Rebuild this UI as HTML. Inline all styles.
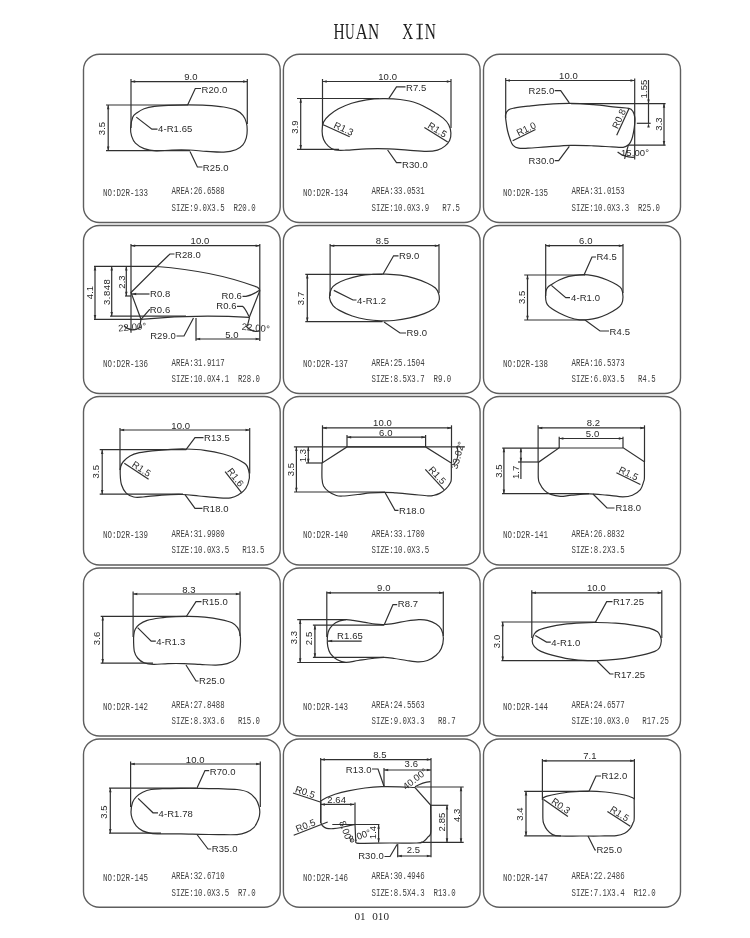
<!DOCTYPE html>
<html><head><meta charset="utf-8"><title>HUAN XIN</title>
<style>
html,body{margin:0;padding:0;background:#fff;width:750px;height:938px;overflow:hidden}
svg{filter:grayscale(1)}
svg{display:block}
line,polyline,path,.ln{fill:none;stroke:#303030;stroke-width:1.2}
path.ah{fill:#303030;stroke:none}
.bx{fill:none;stroke:#5e5e5e;stroke-width:1.4}
text{font-family:"Liberation Sans",sans-serif}
.t{font-size:9.5px;fill:#2a2a2a;letter-spacing:0.1px}
.i{font-family:"Liberation Mono",monospace;font-size:10.2px;fill:#404040}
.ti{font-family:"Liberation Serif",serif;font-size:23.4px;fill:#1e1e1e}
.ft{font-family:"Liberation Serif",serif;font-size:11.2px;fill:#2a2a2a}
</style></head><body>
<svg width="750" height="938" viewBox="0 0 750 938">
<text class="ti" transform="translate(333.55,39.2) scale(0.66,1)">H</text>
<text class="ti" transform="translate(344.92,39.2) scale(0.57,1)">U</text>
<text class="ti" transform="translate(355.43,39.2) scale(0.73,1)">A</text>
<text class="ti" transform="translate(367.95,39.2) scale(0.66,1)">N</text>
<text class="ti" transform="translate(402.37,39.2) scale(0.65,1)">X</text>
<text class="ti" transform="translate(424.85,39.2) scale(0.66,1)">N</text><path d="M419.65,24.2V39" style="stroke:#1e1e1e;stroke-width:1.7;fill:none"/><path d="M416.4,24.3H422.9M416.4,38.8H422.9" style="stroke:#1e1e1e;stroke-width:0.95;fill:none"/>
<rect class="bx" x="83.5" y="54.3" width="196.7" height="168.2" rx="16" ry="15.5"/>
<rect class="bx" x="283.4" y="54.3" width="196.7" height="168.2" rx="16" ry="15.5"/>
<rect class="bx" x="483.5" y="54.3" width="197" height="168.2" rx="16" ry="15.5"/>
<rect class="bx" x="83.5" y="225.5" width="196.7" height="168" rx="16" ry="15.5"/>
<rect class="bx" x="283.4" y="225.5" width="196.7" height="168" rx="16" ry="15.5"/>
<rect class="bx" x="483.5" y="225.5" width="197" height="168" rx="16" ry="15.5"/>
<rect class="bx" x="83.5" y="396.5" width="196.7" height="168.5" rx="16" ry="15.5"/>
<rect class="bx" x="283.4" y="396.5" width="196.7" height="168.5" rx="16" ry="15.5"/>
<rect class="bx" x="483.5" y="396.5" width="197" height="168.5" rx="16" ry="15.5"/>
<rect class="bx" x="83.5" y="568" width="196.7" height="168" rx="16" ry="15.5"/>
<rect class="bx" x="283.4" y="568" width="196.7" height="168" rx="16" ry="15.5"/>
<rect class="bx" x="483.5" y="568" width="197" height="168" rx="16" ry="15.5"/>
<rect class="bx" x="83.5" y="739" width="196.7" height="168.3" rx="16" ry="15.5"/>
<rect class="bx" x="283.4" y="739" width="196.7" height="168.3" rx="16" ry="15.5"/>
<rect class="bx" x="483.5" y="739" width="197" height="168.3" rx="16" ry="15.5"/>
<line x1="131" y1="79" x2="131" y2="128"/>
<line x1="247.3" y1="79" x2="247.3" y2="124"/>
<line x1="131" y1="81.6" x2="247.3" y2="81.6"/>
<path class="ah" d="M131,81.6L135.2,80.35L135.2,82.85Z"/>
<path class="ah" d="M247.3,81.6L243.1,82.85L243.1,80.35Z"/>
<text class="t" x="191" y="80.1" text-anchor="middle">9.0</text>
<line x1="106" y1="105" x2="188" y2="105"/>
<line x1="106" y1="150.6" x2="190" y2="150.6"/>
<line x1="108.2" y1="105" x2="108.2" y2="150.6"/>
<path class="ah" d="M108.2,105L109.45,109.2L106.95,109.2Z"/>
<path class="ah" d="M108.2,150.6L106.95,146.4L109.45,146.4Z"/>
<text class="t" x="0" y="0" text-anchor="middle" transform="translate(105.2,128.5) rotate(-90)">3.5</text>
<path d="M130.6,128.4C130.8,125.23 131.72,119.72 132.8,117.1C133.88,114.48 135.22,114.1 137.1,112.7C138.98,111.3 141.2,109.77 144.1,108.7C147,107.63 150.47,106.87 154.5,106.3C158.53,105.73 162.82,105.53 168.3,105.3C173.78,105.07 181.03,104.9 187.4,104.9C193.77,104.9 200.43,104.95 206.5,105.3C212.57,105.65 218.9,106.2 223.8,107C228.7,107.8 232.72,108.72 235.9,110.1C239.08,111.48 241.17,113.27 242.9,115.3C244.63,117.33 245.58,119.85 246.3,122.3C247.02,124.75 247.2,127.4 247.2,130C247.2,132.6 247.02,135.43 246.3,137.9C245.58,140.37 244.63,142.83 242.9,144.8C241.17,146.77 239.08,148.48 235.9,149.7C232.72,150.92 228.7,151.82 223.8,152.1C218.9,152.38 212.28,151.75 206.5,151.4C200.72,151.05 194.88,150.23 189.1,150C183.32,149.77 177.28,149.85 171.8,150C166.32,150.15 160.82,151.13 156.2,150.9C151.58,150.67 147.57,149.9 144.1,148.6C140.63,147.3 137.48,145.18 135.4,143.1C133.32,141.02 132.4,138.55 131.6,136.1C130.8,133.65 130.4,131.57 130.6,128.4Z"/>
<polyline points="187.6,105 195.3,88.5 201,88.5"/>
<text class="t" x="201.5" y="92.6">R20.0</text>
<polyline points="136.3,117.1 151.9,129.2 157.5,129.2"/>
<text class="t" x="158" y="132.4">4-R1.65</text>
<polyline points="190,151.4 197.4,167 202.5,167"/>
<text class="t" x="202.8" y="170.8">R25.0</text>
<text class="i" x="103" y="196" textLength="44.9" lengthAdjust="spacingAndGlyphs">NO:D2R-133</text>
<text class="i" x="171.6" y="194.2" textLength="53.04" lengthAdjust="spacingAndGlyphs">AREA:26.6588</text>
<text class="i" x="171.6" y="210.7" textLength="83.98" lengthAdjust="spacingAndGlyphs">SIZE:9.0X3.5&#160;&#160;R20.0</text>
<line x1="322.5" y1="79" x2="322.5" y2="126"/>
<line x1="451" y1="79" x2="451" y2="128"/>
<line x1="322.5" y1="81.5" x2="451" y2="81.5"/>
<path class="ah" d="M322.5,81.5L326.7,80.25L326.7,82.75Z"/>
<path class="ah" d="M451,81.5L446.8,82.75L446.8,80.25Z"/>
<text class="t" x="387.6" y="80" text-anchor="middle">10.0</text>
<line x1="297" y1="98.5" x2="379" y2="98.5"/>
<line x1="297" y1="149.3" x2="339" y2="149.3"/>
<line x1="300.7" y1="98.5" x2="300.7" y2="149.3"/>
<path class="ah" d="M300.7,98.5L301.95,102.7L299.45,102.7Z"/>
<path class="ah" d="M300.7,149.3L299.45,145.1L301.95,145.1Z"/>
<text class="t" x="0" y="0" text-anchor="middle" transform="translate(297.7,127) rotate(-90)">3.9</text>
<path d="M322.1,131C322.1,128.05 322.42,124.52 323.6,121.9C324.78,119.28 326.72,117.48 329.2,115.3C331.68,113.12 334.77,110.82 338.5,108.8C342.23,106.78 346.93,104.7 351.6,103.2C356.27,101.7 361.22,100.55 366.5,99.8C371.78,99.05 377.7,98.75 383.3,98.7C388.9,98.65 394.5,98.75 400.1,99.5C405.7,100.25 411.6,101.33 416.9,103.2C422.2,105.07 427.53,108.22 431.9,110.7C436.27,113.18 440.3,115.77 443.1,118.1C445.9,120.43 447.4,122.22 448.7,124.7C450,127.18 450.75,130.37 450.9,133C451.05,135.63 450.6,138.32 449.6,140.5C448.6,142.68 446.92,144.48 444.9,146.1C442.88,147.72 440.6,149.32 437.5,150.2C434.4,151.08 431.28,151.4 426.3,151.4C421.32,151.4 413.83,150.62 407.6,150.2C401.37,149.78 395.75,149.12 388.9,148.9C382.05,148.68 373.65,148.68 366.5,148.9C359.35,149.12 351.28,150.03 346,150.2C340.72,150.37 337.75,150.58 334.8,149.9C331.85,149.22 330.17,147.82 328.3,146.1C326.43,144.38 324.63,142.12 323.6,139.6C322.57,137.08 322.1,133.95 322.1,131Z"/>
<polyline points="388.9,98.3 396.5,86.8 405.5,86.8"/>
<text class="t" x="406" y="90.6">R7.5</text>
<line x1="323.2" y1="124.7" x2="349.7" y2="136.8"/>
<text class="t" x="0" y="0" text-anchor="middle" transform="translate(342.41,131.71) rotate(24.54)">R1.3</text>
<line x1="424.4" y1="127.5" x2="447.7" y2="142"/>
<text class="t" x="0" y="0" text-anchor="middle" transform="translate(435.73,132.67) rotate(31.89)">R1.5</text>
<polyline points="387.6,150 396.5,162.6 401.5,162.6"/>
<text class="t" x="402" y="167.8">R30.0</text>
<text class="i" x="303" y="196" textLength="44.9" lengthAdjust="spacingAndGlyphs">NO:D2R-134</text>
<text class="i" x="371.6" y="194.2" textLength="53.04" lengthAdjust="spacingAndGlyphs">AREA:33.0531</text>
<text class="i" x="371.6" y="210.7" textLength="88.4" lengthAdjust="spacingAndGlyphs">SIZE:10.0X3.9&#160;&#160;&#160;R7.5</text>
<line x1="505.7" y1="78" x2="505.7" y2="118"/>
<line x1="634.7" y1="78.5" x2="634.7" y2="159.6"/>
<line x1="505.7" y1="80.5" x2="634.7" y2="80.5"/>
<path class="ah" d="M505.7,80.5L509.9,79.25L509.9,81.75Z"/>
<path class="ah" d="M634.7,80.5L630.5,81.75L630.5,79.25Z"/>
<text class="t" x="568.5" y="79" text-anchor="middle">10.0</text>
<path d="M506,121.1C505.68,118.45 505.2,116.47 505.6,114.6C506,112.73 507,110.98 508.4,109.9C509.8,108.82 510.73,108.72 514,108.1C517.27,107.48 522.55,106.83 528,106.2C533.45,105.57 539.55,104.77 546.7,104.3C553.85,103.83 563.13,103.33 570.9,103.4C578.67,103.47 585.83,104.08 593.3,104.7C600.77,105.32 609.78,106.48 615.7,107.1C621.62,107.72 625.93,107.68 628.8,108.4C631.67,109.12 631.9,109.9 632.9,111.4C633.9,112.9 634.48,115.47 634.8,117.4C635.12,119.33 635.02,120.52 634.8,123C634.58,125.48 634.03,129.5 633.5,132.3C632.97,135.1 632.38,137.77 631.6,139.8C630.82,141.83 630.2,143.25 628.8,144.5C627.4,145.75 626,146.9 623.2,147.3C620.4,147.7 616.98,147.15 612,146.9C607.02,146.65 600.15,146.05 593.3,145.8C586.45,145.55 578.67,145.22 570.9,145.4C563.13,145.58 553.85,146.43 546.7,146.9C539.55,147.37 532.67,147.98 528,148.2C523.33,148.42 521.18,148.67 518.7,148.2C516.22,147.73 514.5,146.8 513.1,145.4C511.7,144 511.23,142.28 510.3,139.8C509.37,137.32 508.22,133.62 507.5,130.5C506.78,127.38 506.32,123.75 506,121.1Z"/>
<line x1="571" y1="103.6" x2="665.6" y2="103.6"/>
<line x1="628" y1="145.2" x2="665.6" y2="145.2"/>
<line x1="664" y1="103.6" x2="664" y2="145.2"/>
<path class="ah" d="M664,103.6L665.25,107.8L662.75,107.8Z"/>
<path class="ah" d="M664,145.2L662.75,141L665.25,141Z"/>
<text class="t" x="0" y="0" text-anchor="middle" transform="translate(662,124) rotate(-90)">3.3</text>
<line x1="648.5" y1="80" x2="648.5" y2="123.3"/>
<line x1="636.8" y1="123.3" x2="650.7" y2="123.3"/>
<path class="ah" d="M648.5,103.6L647.25,99.4L649.75,99.4Z"/>
<path class="ah" d="M648.5,123.3L649.75,127.5L647.25,127.5Z"/>
<text class="t" x="0" y="0" text-anchor="middle" transform="translate(647,89) rotate(-90)">1.55</text>
<text class="t" x="554.4" y="94.4" text-anchor="end">R25.0</text>
<polyline points="554.7,90.7 560.7,90.7 569.3,102.9"/>
<text class="t" x="554.4" y="164" text-anchor="end">R30.0</text>
<polyline points="554.7,160.7 558.7,160.7 569.3,146.3"/>
<line x1="512.7" y1="140.7" x2="535.5" y2="129.5"/>
<text class="t" x="0" y="0" text-anchor="middle" transform="translate(527.59,131.83) rotate(-26.16)">R1.0</text>
<line x1="616.7" y1="135.2" x2="628.8" y2="109"/>
<text class="t" x="0" y="0" text-anchor="middle" transform="translate(621.99,120.16) rotate(-65.21)">R0.8</text>
<line x1="628.3" y1="145.2" x2="624.6" y2="158.8"/>
<path d="M617.6,152 Q625,158 634.7,157.2" class="ln"/>
<text class="t" x="635" y="155.6" text-anchor="middle" font-size="8">15.00°</text>
<text class="i" x="503" y="196" textLength="44.9" lengthAdjust="spacingAndGlyphs">NO:D2R-135</text>
<text class="i" x="571.6" y="194.2" textLength="53.04" lengthAdjust="spacingAndGlyphs">AREA:31.0153</text>
<text class="i" x="571.6" y="210.7" textLength="88.4" lengthAdjust="spacingAndGlyphs">SIZE:10.0X3.3&#160;&#160;R25.0</text>
<line x1="131" y1="244" x2="131" y2="332.7"/>
<line x1="259.8" y1="244" x2="259.8" y2="341"/>
<line x1="131" y1="245.7" x2="259.8" y2="245.7"/>
<path class="ah" d="M131,245.7L135.2,244.45L135.2,246.95Z"/>
<path class="ah" d="M259.8,245.7L255.6,246.95L255.6,244.45Z"/>
<text class="t" x="200" y="244.2" text-anchor="middle">10.0</text>
<line x1="94" y1="266.3" x2="157" y2="266.3"/>
<path d="M131,292.5 L157,266.5 Q215,271 257.5,287.3 Q260.5,289.5 259.5,291.5 L249.3,317.3 Q195,314 141,319.3 Z"/>
<line x1="94" y1="319.3" x2="141" y2="319.3"/>
<line x1="110" y1="316.2" x2="186" y2="316.2"/>
<line x1="95" y1="266.3" x2="95" y2="319.3"/>
<path class="ah" d="M95,266.3L96.25,270.5L93.75,270.5Z"/>
<path class="ah" d="M95,319.3L93.75,315.1L96.25,315.1Z"/>
<text class="t" x="0" y="0" text-anchor="middle" transform="translate(93.4,292.5) rotate(-90)">4.1</text>
<line x1="111.7" y1="266.3" x2="111.7" y2="316.2"/>
<path class="ah" d="M111.7,266.3L112.95,270.5L110.45,270.5Z"/>
<path class="ah" d="M111.7,316.2L110.45,312L112.95,312Z"/>
<text class="t" x="0" y="0" text-anchor="middle" transform="translate(109.6,292) rotate(-90)" textLength="26" lengthAdjust="spacing">3.848</text>
<line x1="126.3" y1="266.3" x2="126.3" y2="296"/>
<line x1="125" y1="296" x2="131" y2="296"/>
<path class="ah" d="M126.3,266.3L127.55,270.5L125.05,270.5Z"/>
<path class="ah" d="M126.3,296L125.05,291.8L127.55,291.8Z"/>
<text class="t" x="0" y="0" text-anchor="middle" transform="translate(124.6,282) rotate(-90)">2.3</text>
<polyline points="157,266.5 169.9,254 174.5,254"/>
<text class="t" x="175" y="258">R28.0</text>
<line x1="132" y1="294" x2="149.5" y2="294"/>
<path class="ah" d="M132,294L136.2,292.75L136.2,295.25Z"/>
<text class="t" x="150" y="296.8">R0.8</text>
<polyline points="141,319.3 149.5,309.5 150,309.5"/>
<text class="t" x="149.8" y="312.8">R0.6</text>
<text class="t" x="0" y="0" text-anchor="middle" font-size="8" transform="translate(132.5,330.3) rotate(-5)">22.00°</text>
<path d="M124,326 Q132,333 141,327" class="ln"/>
<text class="t" x="176" y="338.8" text-anchor="end">R29.0</text>
<polyline points="176.5,336 184,336 193.5,318"/>
<line x1="196" y1="318" x2="196" y2="340.7"/>
<line x1="196" y1="339" x2="259.8" y2="339"/>
<path class="ah" d="M196,339L200.2,337.75L200.2,340.25Z"/>
<path class="ah" d="M259.8,339L255.6,340.25L255.6,337.75Z"/>
<text class="t" x="232" y="337.5" text-anchor="middle">5.0</text>
<text class="t" x="242" y="299.4" text-anchor="end">R0.6</text>
<path d="M242.5,296.3 L246,296.3 Q253,295 259,290.5" class="ln"/>
<text class="t" x="236.7" y="309.4" text-anchor="end">R0.6</text>
<path d="M237,306.3 L242.5,306.3 Q245,308 249,316.5" class="ln"/>
<text class="t" x="0" y="0" text-anchor="middle" font-size="8" transform="translate(255.5,331) rotate(5)">22.00°</text>
<path d="M246,326 Q252,333 260,331" class="ln"/>
<line x1="249.5" y1="317.5" x2="247.4" y2="326"/>
<line x1="141" y1="319.3" x2="139.5" y2="328"/>
<text class="i" x="103" y="367.3" textLength="44.9" lengthAdjust="spacingAndGlyphs">NO:D2R-136</text>
<text class="i" x="171.6" y="365.5" textLength="53.04" lengthAdjust="spacingAndGlyphs">AREA:31.9117</text>
<text class="i" x="171.6" y="382" textLength="88.4" lengthAdjust="spacingAndGlyphs">SIZE:10.0X4.1&#160;&#160;R28.0</text>
<line x1="330.1" y1="244" x2="330.1" y2="296"/>
<line x1="439" y1="244" x2="439" y2="293"/>
<line x1="330.1" y1="245.7" x2="439" y2="245.7"/>
<path class="ah" d="M330.1,245.7L334.3,244.45L334.3,246.95Z"/>
<path class="ah" d="M439,245.7L434.8,246.95L434.8,244.45Z"/>
<text class="t" x="382.5" y="244.2" text-anchor="middle">8.5</text>
<line x1="305.3" y1="274.3" x2="382.5" y2="274.3"/>
<line x1="305.3" y1="321.7" x2="382.5" y2="321.7"/>
<line x1="307.3" y1="274.3" x2="307.3" y2="321.7"/>
<path class="ah" d="M307.3,274.3L308.55,278.5L306.05,278.5Z"/>
<path class="ah" d="M307.3,321.7L306.05,317.5L308.55,317.5Z"/>
<text class="t" x="0" y="0" text-anchor="middle" transform="translate(304.3,298.4) rotate(-90)">3.7</text>
<path d="M329.5,297.6C329.23,294.8 330.28,291.07 331.4,288.8C332.52,286.53 333.8,285.55 336.2,284C338.6,282.45 341.8,280.88 345.8,279.5C349.8,278.12 355.67,276.55 360.2,275.7C364.73,274.85 368.73,274.67 373,274.4C377.27,274.13 381.27,273.97 385.8,274.1C390.33,274.23 395.4,274.48 400.2,275.2C405,275.92 410.07,277.07 414.6,278.4C419.13,279.73 423.93,281.6 427.4,283.2C430.87,284.8 433.53,286.27 435.4,288C437.27,289.73 437.93,291.77 438.6,293.6C439.27,295.43 439.53,297.27 439.4,299C439.27,300.73 438.73,302.37 437.8,304C436.87,305.63 436.07,307.2 433.8,308.8C431.53,310.4 428.2,312.08 424.2,313.6C420.2,315.12 414.87,316.75 409.8,317.9C404.73,319.05 398.6,320.02 393.8,320.5C389,320.98 385.53,320.97 381,320.8C376.47,320.63 371.4,320.3 366.6,319.5C361.8,318.7 356.73,317.52 352.2,316C347.67,314.48 342.6,312.13 339.4,310.4C336.2,308.67 334.65,307.73 333,305.6C331.35,303.47 329.77,300.4 329.5,297.6Z"/>
<polyline points="383,274.2 393.6,255.8 398.5,255.8"/>
<text class="t" x="399" y="259.2">R9.0</text>
<polyline points="333.8,290.4 353,300 356.5,300"/>
<text class="t" x="357" y="303.6">4-R1.2</text>
<polyline points="384,322 400,333 406,333"/>
<text class="t" x="406.6" y="336.2">R9.0</text>
<text class="i" x="303" y="367.3" textLength="44.9" lengthAdjust="spacingAndGlyphs">NO:D2R-137</text>
<text class="i" x="371.6" y="365.5" textLength="53.04" lengthAdjust="spacingAndGlyphs">AREA:25.1504</text>
<text class="i" x="371.6" y="382" textLength="79.56" lengthAdjust="spacingAndGlyphs">SIZE:8.5X3.7&#160;&#160;R9.0</text>
<line x1="545.7" y1="244" x2="545.7" y2="296"/>
<line x1="623" y1="244" x2="623" y2="293"/>
<line x1="545.7" y1="245.7" x2="623" y2="245.7"/>
<path class="ah" d="M545.7,245.7L549.9,244.45L549.9,246.95Z"/>
<path class="ah" d="M623,245.7L618.8,246.95L618.8,244.45Z"/>
<text class="t" x="585.8" y="244.2" text-anchor="middle">6.0</text>
<line x1="524.2" y1="275" x2="585" y2="275"/>
<line x1="524.2" y1="320" x2="585" y2="320"/>
<line x1="527.5" y1="275" x2="527.5" y2="320"/>
<path class="ah" d="M527.5,275L528.75,279.2L526.25,279.2Z"/>
<path class="ah" d="M527.5,320L526.25,315.8L528.75,315.8Z"/>
<text class="t" x="0" y="0" text-anchor="middle" transform="translate(524.5,297.3) rotate(-90)">3.5</text>
<path d="M545.8,300C545.53,297.9 545.52,294.07 545.8,292C546.08,289.93 546.47,288.9 547.5,287.6C548.53,286.3 550.05,285.47 552,284.2C553.95,282.93 556.4,281.3 559.2,280C562,278.7 565.4,277.27 568.8,276.4C572.2,275.53 576.4,275.07 579.6,274.8C582.8,274.53 585,274.5 588,274.8C591,275.1 594.4,275.73 597.6,276.6C600.8,277.47 604,278.63 607.2,280C610.4,281.37 614.4,283.3 616.8,284.8C619.2,286.3 620.57,286.97 621.6,289C622.63,291.03 623,294.5 623,297C623,299.5 622.63,302.03 621.6,304C620.57,305.97 619.2,307.1 616.8,308.8C614.4,310.5 610.4,312.7 607.2,314.2C604,315.7 600.8,316.9 597.6,317.8C594.4,318.7 591,319.27 588,319.6C585,319.93 582.8,320.2 579.6,319.8C576.4,319.4 572.2,318.33 568.8,317.2C565.4,316.07 562,314.4 559.2,313C556.4,311.6 553.97,310.2 552,308.8C550.03,307.4 548.43,306.07 547.4,304.6C546.37,303.13 546.07,302.1 545.8,300Z"/>
<polyline points="584,275 592,257 596,257"/>
<text class="t" x="596.4" y="259.8">R4.5</text>
<polyline points="551.4,285.4 565.8,297.6 570,297.6"/>
<text class="t" x="571" y="301.2">4-R1.0</text>
<polyline points="585,320 600,331 609,331"/>
<text class="t" x="609.6" y="334.7">R4.5</text>
<text class="i" x="503" y="367.3" textLength="44.9" lengthAdjust="spacingAndGlyphs">NO:D2R-138</text>
<text class="i" x="571.6" y="365.5" textLength="53.04" lengthAdjust="spacingAndGlyphs">AREA:16.5373</text>
<text class="i" x="571.6" y="382" textLength="83.98" lengthAdjust="spacingAndGlyphs">SIZE:6.0X3.5&#160;&#160;&#160;R4.5</text>
<line x1="120" y1="428" x2="120" y2="470"/>
<line x1="249.7" y1="428" x2="249.7" y2="473.5"/>
<line x1="120" y1="430" x2="249.7" y2="430"/>
<path class="ah" d="M120,430L124.2,428.75L124.2,431.25Z"/>
<path class="ah" d="M249.7,430L245.5,431.25L245.5,428.75Z"/>
<text class="t" x="180.8" y="428.5" text-anchor="middle">10.0</text>
<line x1="99.7" y1="449.7" x2="186.3" y2="449.7"/>
<line x1="99.7" y1="494.2" x2="183" y2="494.2"/>
<line x1="102.2" y1="449.7" x2="102.2" y2="494.2"/>
<path class="ah" d="M102.2,449.7L103.45,453.9L100.95,453.9Z"/>
<path class="ah" d="M102.2,494.2L100.95,490L103.45,490Z"/>
<text class="t" x="0" y="0" text-anchor="middle" transform="translate(99.2,471.7) rotate(-90)">3.5</text>
<path d="M120.2,474C120.07,470.95 120.17,468.58 120.7,466.5C121.23,464.42 121.85,463.27 123.4,461.5C124.95,459.73 127.35,457.37 130,455.9C132.65,454.43 135.58,453.55 139.3,452.7C143.02,451.85 147.02,451.37 152.3,450.8C157.58,450.23 165.38,449.6 171,449.3C176.62,449 180.4,448.83 186,449C191.6,449.17 198.38,449.47 204.6,450.3C210.82,451.13 218.02,452.6 223.3,454C228.58,455.4 232.57,456.98 236.3,458.7C240.03,460.42 243.67,462.43 245.7,464.3C247.73,466.17 247.88,467.62 248.5,469.9C249.12,472.18 249.87,474.9 249.4,478C248.93,481.1 247.57,485.65 245.7,488.5C243.83,491.35 240.7,493.53 238.2,495.1C235.7,496.67 233.82,497.43 230.7,497.9C227.58,498.37 224.78,498.22 219.5,497.9C214.22,497.58 205.22,496.57 199,496C192.78,495.43 188.42,494.65 182.2,494.5C175.98,494.35 168.23,494.68 161.7,495.1C155.17,495.52 147.67,496.68 143,497C138.33,497.32 136.5,497.63 133.7,497C130.9,496.37 128.23,495.23 126.2,493.2C124.17,491.17 122.5,488 121.5,484.8C120.5,481.6 120.33,477.05 120.2,474Z"/>
<polyline points="186,449.7 195,437.6 203.5,437.6"/>
<text class="t" x="204" y="440.7">R13.5</text>
<line x1="124.3" y1="463.3" x2="148.6" y2="479.2"/>
<text class="t" x="0" y="0" text-anchor="middle" transform="translate(139.76,471.5) rotate(33.2)">R1.5</text>
<line x1="225.1" y1="471.7" x2="241.9" y2="493.2"/>
<text class="t" x="0" y="0" text-anchor="middle" transform="translate(233.08,479.31) rotate(52)">R1.6</text>
<polyline points="185,494.6 195,508.3 202.5,508.3"/>
<text class="t" x="202.8" y="512.2">R18.0</text>
<text class="i" x="103" y="538.4" textLength="44.9" lengthAdjust="spacingAndGlyphs">NO:D2R-139</text>
<text class="i" x="171.6" y="536.6" textLength="53.04" lengthAdjust="spacingAndGlyphs">AREA:31.9980</text>
<text class="i" x="171.6" y="553.1" textLength="92.82" lengthAdjust="spacingAndGlyphs">SIZE:10.0X3.5&#160;&#160;&#160;R13.5</text>
<line x1="322.5" y1="425.3" x2="322.5" y2="463"/>
<line x1="451.5" y1="425.3" x2="451.5" y2="463"/>
<line x1="322.5" y1="427.9" x2="451.5" y2="427.9"/>
<path class="ah" d="M322.5,427.9L326.7,426.65L326.7,429.15Z"/>
<path class="ah" d="M451.5,427.9L447.3,429.15L447.3,426.65Z"/>
<text class="t" x="382.5" y="426.4" text-anchor="middle">10.0</text>
<line x1="347" y1="435" x2="347" y2="447"/>
<line x1="425.6" y1="435" x2="425.6" y2="447"/>
<line x1="347" y1="437.2" x2="425.6" y2="437.2"/>
<path class="ah" d="M347,437.2L351.2,435.95L351.2,438.45Z"/>
<path class="ah" d="M425.6,437.2L421.4,438.45L421.4,435.95Z"/>
<text class="t" x="385.8" y="435.7" text-anchor="middle">6.0</text>
<line x1="293.9" y1="446.9" x2="464.9" y2="446.9"/>
<path d="M347,446.9L425.6,446.9L451.3,463C451.3,468.17 451.45,475.22 451.3,478.5C451.15,481.78 451.27,481.02 450.4,482.7C449.53,484.38 447.88,486.82 446.1,488.6C444.32,490.38 441.83,492.25 439.7,493.4C437.57,494.55 435.25,495.08 433.3,495.5C431.35,495.92 431.55,496.1 428,495.9C424.45,495.7 417.33,494.8 412,494.3C406.67,493.8 400.45,493.23 396,492.9C391.55,492.57 389.55,492.3 385.3,492.3C381.05,492.3 375.1,492.53 370.5,492.9C365.9,493.27 362.33,493.98 357.7,494.5C353.07,495.02 346.27,495.83 342.7,496C339.13,496.17 338.6,496.2 336.3,495.5C334,494.8 331.03,493.38 328.9,491.8C326.77,490.22 324.65,488.22 323.5,486C322.35,483.78 322.25,482.33 322,478.5C321.75,474.67 322,468.17 322,463L347,446.9Z"/>
<line x1="306" y1="463" x2="322.5" y2="463"/>
<line x1="308.3" y1="446.9" x2="308.3" y2="463"/>
<path class="ah" d="M308.3,446.9L309.55,451.1L307.05,451.1Z"/>
<path class="ah" d="M308.3,463L307.05,458.8L309.55,458.8Z"/>
<text class="t" x="0" y="0" text-anchor="middle" transform="translate(306.3,455.5) rotate(-90)">1.3</text>
<line x1="294" y1="492" x2="385" y2="492"/>
<line x1="296.4" y1="446.9" x2="296.4" y2="492"/>
<path class="ah" d="M296.4,446.9L297.65,451.1L295.15,451.1Z"/>
<path class="ah" d="M296.4,492L295.15,487.8L297.65,487.8Z"/>
<text class="t" x="0" y="0" text-anchor="middle" transform="translate(294.3,469.5) rotate(-90)">3.5</text>
<text class="t" x="0" y="0" text-anchor="middle" font-size="8" transform="translate(461,456) rotate(-75)">33.02°</text>
<path d="M453.5,465 Q460,458 457,446" class="ln"/>
<line x1="425.3" y1="469.4" x2="444" y2="489.7"/>
<text class="t" x="0" y="0" text-anchor="middle" transform="translate(434.89,477.45) rotate(47.35)">R1.5</text>
<polyline points="385,492.5 395,510.3 398.5,510.3"/>
<text class="t" x="399" y="513.5">R18.0</text>
<text class="i" x="303" y="538.4" textLength="44.9" lengthAdjust="spacingAndGlyphs">NO:D2R-140</text>
<text class="i" x="371.6" y="536.6" textLength="53.04" lengthAdjust="spacingAndGlyphs">AREA:33.1780</text>
<text class="i" x="371.6" y="553.1" textLength="57.46" lengthAdjust="spacingAndGlyphs">SIZE:10.0X3.5</text>
<line x1="538.1" y1="425.3" x2="538.1" y2="462"/>
<line x1="644.5" y1="425.3" x2="644.5" y2="462"/>
<line x1="538.1" y1="427.9" x2="644.5" y2="427.9"/>
<path class="ah" d="M538.1,427.9L542.3,426.65L542.3,429.15Z"/>
<path class="ah" d="M644.5,427.9L640.3,429.15L640.3,426.65Z"/>
<text class="t" x="593.4" y="426.4" text-anchor="middle">8.2</text>
<line x1="559.2" y1="436.7" x2="559.2" y2="448"/>
<line x1="623" y1="436.7" x2="623" y2="448"/>
<line x1="559.2" y1="438.5" x2="623" y2="438.5"/>
<path class="ah" d="M559.2,438.5L563.4,437.25L563.4,439.75Z"/>
<path class="ah" d="M623,438.5L618.8,439.75L618.8,437.25Z"/>
<text class="t" x="592.6" y="437" text-anchor="middle">5.0</text>
<line x1="502.2" y1="448.1" x2="559.2" y2="448.1"/>
<path d="M558.8,448L623.6,448L644.4,461.8C644.4,467.2 644.53,474.7 644.4,478C644.27,481.3 644.27,479.67 643.6,481.6C642.93,483.53 642.27,487.33 640.4,489.6C638.53,491.87 635.33,494 632.4,495.2C629.47,496.4 627.07,496.8 622.8,496.8C618.53,496.8 612.4,495.68 606.8,495.2C601.2,494.72 595.07,493.9 589.2,493.9C583.33,493.9 576.4,494.8 571.6,495.2C566.8,495.6 563.87,496.43 560.4,496.3C556.93,496.17 553.47,495.38 550.8,494.4C548.13,493.42 546.27,492.27 544.4,490.4C542.53,488.53 540.62,485.27 539.6,483.2C538.58,481.13 538.52,481.47 538.3,478C538.08,474.53 538.3,467.6 538.3,462.4L558.8,448Z"/>
<line x1="518" y1="462" x2="538.1" y2="462"/>
<line x1="520.9" y1="448.1" x2="520.9" y2="479"/>
<path class="ah" d="M520.9,448.1L522.15,452.3L519.65,452.3Z"/>
<path class="ah" d="M520.9,462L519.65,457.8L522.15,457.8Z"/>
<text class="t" x="0" y="0" text-anchor="middle" transform="translate(519.3,472.3) rotate(-90)">1.7</text>
<line x1="502" y1="493.6" x2="589" y2="493.6"/>
<line x1="503.9" y1="448.1" x2="503.9" y2="493.7"/>
<path class="ah" d="M503.9,448.1L505.15,452.3L502.65,452.3Z"/>
<path class="ah" d="M503.9,493.7L502.65,489.5L505.15,489.5Z"/>
<text class="t" x="0" y="0" text-anchor="middle" transform="translate(502,471) rotate(-90)">3.5</text>
<line x1="616.4" y1="472.8" x2="640.4" y2="484.5"/>
<text class="t" x="0" y="0" text-anchor="middle" transform="translate(627.14,476.37) rotate(25.99)">R1.5</text>
<polyline points="593,494 607,508 614.5,508"/>
<text class="t" x="615.4" y="510.9">R18.0</text>
<text class="i" x="503" y="538.4" textLength="44.9" lengthAdjust="spacingAndGlyphs">NO:D2R-141</text>
<text class="i" x="571.6" y="536.6" textLength="53.04" lengthAdjust="spacingAndGlyphs">AREA:26.8832</text>
<text class="i" x="571.6" y="553.1" textLength="53.04" lengthAdjust="spacingAndGlyphs">SIZE:8.2X3.5</text>
<line x1="133.1" y1="591.5" x2="133.1" y2="637"/>
<line x1="240" y1="591.5" x2="240" y2="636"/>
<line x1="133.1" y1="594" x2="240" y2="594"/>
<path class="ah" d="M133.1,594L137.3,592.75L137.3,595.25Z"/>
<path class="ah" d="M240,594L235.8,595.25L235.8,592.75Z"/>
<text class="t" x="188.9" y="592.5" text-anchor="middle">8.3</text>
<line x1="100.7" y1="616.4" x2="186.3" y2="616.4"/>
<line x1="100.7" y1="663.2" x2="153" y2="663.2"/>
<line x1="102.7" y1="616.4" x2="102.7" y2="663.2"/>
<path class="ah" d="M102.7,616.4L103.95,620.6L101.45,620.6Z"/>
<path class="ah" d="M102.7,663.2L101.45,659L103.95,659Z"/>
<text class="t" x="0" y="0" text-anchor="middle" transform="translate(99.7,638.4) rotate(-90)">3.6</text>
<path d="M133.6,642C133.5,639.23 133.53,637.13 133.8,635C134.07,632.87 134.3,630.97 135.2,629.2C136.1,627.43 137.2,625.87 139.2,624.4C141.2,622.93 143.73,621.47 147.2,620.4C150.67,619.33 155.2,618.62 160,618C164.8,617.38 171.2,616.97 176,616.7C180.8,616.43 184,616.32 188.8,616.4C193.6,616.48 199.47,616.67 204.8,617.2C210.13,617.73 216.27,618.67 220.8,619.6C225.33,620.53 229.2,621.47 232,622.8C234.8,624.13 236.27,625.73 237.6,627.6C238.93,629.47 239.52,631.6 240,634C240.48,636.4 240.63,638.8 240.5,642C240.37,645.2 240.08,650.27 239.2,653.2C238.32,656.13 237.2,657.87 235.2,659.6C233.2,661.33 230.4,662.67 227.2,663.6C224,664.53 220.53,665.07 216,665.2C211.47,665.33 205.33,664.67 200,664.4C194.67,664.13 189.33,663.73 184,663.6C178.67,663.47 173.07,663.47 168,663.6C162.93,663.73 157.6,664.53 153.6,664.4C149.6,664.27 146.67,663.87 144,662.8C141.33,661.73 139.2,659.87 137.6,658C136,656.13 135.07,654.27 134.4,651.6C133.73,648.93 133.7,644.77 133.6,642Z"/>
<polyline points="186,617 196,601.6 201.5,601.6"/>
<text class="t" x="202" y="605.2">R15.0</text>
<polyline points="137.6,627.6 151.2,641.2 155.8,641.2"/>
<text class="t" x="156.2" y="644.8">4-R1.3</text>
<polyline points="186,665 196,681 198.5,681"/>
<text class="t" x="199" y="684.2">R25.0</text>
<text class="i" x="103" y="709.6" textLength="44.9" lengthAdjust="spacingAndGlyphs">NO:D2R-142</text>
<text class="i" x="171.6" y="707.8" textLength="53.04" lengthAdjust="spacingAndGlyphs">AREA:27.8488</text>
<text class="i" x="171.6" y="724.3" textLength="88.4" lengthAdjust="spacingAndGlyphs">SIZE:8.3X3.6&#160;&#160;&#160;R15.0</text>
<line x1="326.8" y1="591.5" x2="326.8" y2="637"/>
<line x1="443.3" y1="591.5" x2="443.3" y2="636"/>
<line x1="326.8" y1="592.8" x2="443.3" y2="592.8"/>
<path class="ah" d="M326.8,592.8L331,591.55L331,594.05Z"/>
<path class="ah" d="M443.3,592.8L439.1,594.05L439.1,591.55Z"/>
<text class="t" x="383.8" y="591.3" text-anchor="middle">9.0</text>
<line x1="297.2" y1="619.7" x2="346" y2="619.7"/>
<line x1="297.2" y1="662.5" x2="346" y2="662.5"/>
<line x1="312.9" y1="625.2" x2="384" y2="625.2"/>
<line x1="312.9" y1="657.4" x2="384" y2="657.4"/>
<line x1="300.2" y1="619.7" x2="300.2" y2="662.5"/>
<path class="ah" d="M300.2,619.7L301.45,623.9L298.95,623.9Z"/>
<path class="ah" d="M300.2,662.5L298.95,658.3L301.45,658.3Z"/>
<text class="t" x="0" y="0" text-anchor="middle" transform="translate(297.2,637.5) rotate(-90)">3.3</text>
<line x1="314.9" y1="625.2" x2="314.9" y2="657.4"/>
<path class="ah" d="M314.9,625.2L316.15,629.4L313.65,629.4Z"/>
<path class="ah" d="M314.9,657.4L313.65,653.2L316.15,653.2Z"/>
<text class="t" x="0" y="0" text-anchor="middle" transform="translate(311.9,638.4) rotate(-90)">2.5</text>
<path d="M327.3,638.4C327.37,635.95 327.68,633.8 328.2,632C328.72,630.2 329.17,629.15 330.4,627.6C331.63,626.05 333.28,624 335.6,622.7C337.92,621.4 341.42,620.2 344.3,619.8C347.18,619.4 349.43,619.87 352.9,620.3C356.37,620.73 361.33,621.77 365.1,622.4C368.87,623.03 372.33,623.75 375.5,624.1C378.67,624.45 380.93,624.63 384.1,624.5C387.27,624.37 390.73,623.88 394.5,623.3C398.27,622.72 402.65,621.62 406.7,621C410.75,620.38 415.33,619.72 418.8,619.6C422.27,619.48 424.62,619.55 427.5,620.3C430.38,621.05 433.8,622.6 436.1,624.1C438.4,625.6 440.08,626.9 441.3,629.3C442.52,631.7 443.4,635.32 443.4,638.5C443.4,641.68 442.52,645.6 441.3,648.4C440.08,651.2 438.4,653.28 436.1,655.3C433.8,657.32 430.38,659.4 427.5,660.5C424.62,661.6 422.27,661.9 418.8,661.9C415.33,661.9 410.75,661.07 406.7,660.5C402.65,659.93 398.27,659.02 394.5,658.5C390.73,657.98 387.85,657.4 384.1,657.4C380.35,657.4 376.33,657.98 372,658.5C367.67,659.02 362.43,659.87 358.1,660.5C353.77,661.13 349.47,662.43 346,662.3C342.53,662.17 339.9,661.15 337.3,659.7C334.7,658.25 331.98,655.77 330.4,653.6C328.82,651.43 328.32,649.23 327.8,646.7C327.28,644.17 327.23,640.85 327.3,638.4Z"/>
<polyline points="384,625.2 393,604.6 397.2,604.6"/>
<text class="t" x="397.7" y="606.9">R8.7</text>
<line x1="328" y1="641.1" x2="361.6" y2="641.1"/>
<path class="ah" d="M328,641.1L332.2,639.85L332.2,642.35Z"/>
<text class="t" x="337.1" y="638.9">R1.65</text>
<text class="i" x="303" y="709.6" textLength="44.9" lengthAdjust="spacingAndGlyphs">NO:D2R-143</text>
<text class="i" x="371.6" y="707.8" textLength="53.04" lengthAdjust="spacingAndGlyphs">AREA:24.5563</text>
<text class="i" x="371.6" y="724.3" textLength="83.98" lengthAdjust="spacingAndGlyphs">SIZE:9.0X3.3&#160;&#160;&#160;R8.7</text>
<line x1="531.8" y1="590.3" x2="531.8" y2="638"/>
<line x1="661.8" y1="590.3" x2="661.8" y2="638"/>
<line x1="531.8" y1="592.8" x2="661.8" y2="592.8"/>
<path class="ah" d="M531.8,592.8L536,591.55L536,594.05Z"/>
<path class="ah" d="M661.8,592.8L657.6,594.05L657.6,591.55Z"/>
<text class="t" x="596.4" y="591.3" text-anchor="middle">10.0</text>
<line x1="501.4" y1="622" x2="596.4" y2="622"/>
<line x1="501.4" y1="660.7" x2="596.4" y2="660.7"/>
<line x1="502.7" y1="622" x2="502.7" y2="660.7"/>
<path class="ah" d="M502.7,622L503.95,626.2L501.45,626.2Z"/>
<path class="ah" d="M502.7,660.7L501.45,656.5L503.95,656.5Z"/>
<text class="t" x="0" y="0" text-anchor="middle" transform="translate(499.7,641.4) rotate(-90)">3.0</text>
<path d="M532.2,641C532.2,638.83 533.25,635.55 534.4,633.7C535.55,631.85 536.77,631 539.1,629.9C541.43,628.8 544.37,628.03 548.4,627.1C552.43,626.17 557.7,625.02 563.3,624.3C568.9,623.58 576.4,623.1 582,622.8C587.6,622.5 591.3,622.43 596.9,622.5C602.5,622.57 609.37,622.73 615.6,623.2C621.83,623.67 628.7,624.48 634.3,625.3C639.9,626.12 645.32,627.02 649.2,628.1C653.08,629.18 655.73,630.4 657.6,631.8C659.47,633.2 659.78,634.97 660.4,636.5C661.02,638.03 661.45,639.13 661.3,641C661.15,642.87 660.58,645.97 659.5,647.7C658.42,649.43 657.77,650.17 654.8,651.4C651.83,652.63 646.68,653.95 641.7,655.1C636.72,656.25 630.8,657.45 624.9,658.3C619,659.15 612.52,659.8 606.3,660.2C600.08,660.6 593.83,660.92 587.6,660.7C581.37,660.48 574.82,659.83 568.9,658.9C562.98,657.97 556.77,656.35 552.1,655.1C547.43,653.85 543.85,652.8 540.9,651.4C537.95,650 535.85,648.43 534.4,646.7C532.95,644.97 532.2,643.17 532.2,641Z"/>
<polyline points="595.4,622.2 606.7,601.6 612.5,601.6"/>
<text class="t" x="612.9" y="605.2">R17.25</text>
<polyline points="535.3,635.5 546.5,642.1 550.8,642.1"/>
<text class="t" x="551.3" y="645.6">4-R1.0</text>
<polyline points="597,661 610,674 613.5,674"/>
<text class="t" x="614" y="677.8">R17.25</text>
<text class="i" x="503" y="709.6" textLength="44.9" lengthAdjust="spacingAndGlyphs">NO:D2R-144</text>
<text class="i" x="571.6" y="707.8" textLength="53.04" lengthAdjust="spacingAndGlyphs">AREA:24.6577</text>
<text class="i" x="571.6" y="724.3" textLength="97.24" lengthAdjust="spacingAndGlyphs">SIZE:10.0X3.0&#160;&#160;&#160;R17.25</text>
<line x1="130.6" y1="761.5" x2="130.6" y2="807"/>
<line x1="260.3" y1="761.5" x2="260.3" y2="807"/>
<line x1="130.6" y1="764" x2="260.3" y2="764"/>
<path class="ah" d="M130.6,764L134.8,762.75L134.8,765.25Z"/>
<path class="ah" d="M260.3,764L256.1,765.25L256.1,762.75Z"/>
<text class="t" x="195.2" y="762.5" text-anchor="middle">10.0</text>
<line x1="109" y1="788.1" x2="196.5" y2="788.1"/>
<line x1="109" y1="833.2" x2="161" y2="833.2"/>
<line x1="110.3" y1="788.1" x2="110.3" y2="833.2"/>
<path class="ah" d="M110.3,788.1L111.55,792.3L109.05,792.3Z"/>
<path class="ah" d="M110.3,833.2L109.05,829L111.55,829Z"/>
<text class="t" x="0" y="0" text-anchor="middle" transform="translate(107.3,812) rotate(-90)">3.5</text>
<path d="M131,811.9C131.07,809.25 131.63,805 132.5,802.5C133.37,800 134.5,798.6 136.2,796.9C137.9,795.2 140.22,793.53 142.7,792.3C145.18,791.07 147.83,790.1 151.1,789.5C154.37,788.9 157.32,788.9 162.3,788.7C167.28,788.5 174.77,788.37 181,788.3C187.23,788.23 193.48,788.23 199.7,788.3C205.92,788.37 212.08,788.5 218.3,788.7C224.52,788.9 232.02,788.9 237,789.5C241.98,790.1 245.08,790.75 248.2,792.3C251.32,793.85 253.9,796.47 255.7,798.8C257.5,801.13 258.32,804.02 259,806.3C259.68,808.58 259.88,810.33 259.8,812.5C259.72,814.67 259.5,816.77 258.5,819.3C257.5,821.83 255.83,825.52 253.8,827.7C251.77,829.88 249.1,831.25 246.3,832.4C243.5,833.55 241.67,834.23 237,834.6C232.33,834.97 224.52,834.65 218.3,834.6C212.08,834.55 205.92,834.42 199.7,834.3C193.48,834.18 187.23,833.97 181,833.9C174.77,833.83 167.28,834 162.3,833.9C157.32,833.8 154.37,833.8 151.1,833.3C147.83,832.8 145.18,832.13 142.7,830.9C140.22,829.67 137.97,827.98 136.2,825.9C134.43,823.82 132.97,820.73 132.1,818.4C131.23,816.07 130.93,814.55 131,811.9Z"/>
<polyline points="197,788 205,770.6 209.2,770.6"/>
<text class="t" x="209.7" y="775">R70.0</text>
<polyline points="138.1,798.4 153,812.8 158,812.8"/>
<text class="t" x="158.5" y="816.6">4-R1.78</text>
<polyline points="197,834.5 208,849 211.2,849"/>
<text class="t" x="211.7" y="852.3">R35.0</text>
<text class="i" x="103" y="880.8" textLength="44.9" lengthAdjust="spacingAndGlyphs">NO:D2R-145</text>
<text class="i" x="171.6" y="879" textLength="53.04" lengthAdjust="spacingAndGlyphs">AREA:32.6710</text>
<text class="i" x="171.6" y="895.5" textLength="83.98" lengthAdjust="spacingAndGlyphs">SIZE:10.0X3.5&#160;&#160;R7.0</text>
<line x1="320.7" y1="758" x2="320.7" y2="823"/>
<line x1="431" y1="758" x2="431" y2="857.3"/>
<line x1="320.7" y1="759.6" x2="431" y2="759.6"/>
<path class="ah" d="M320.7,759.6L324.9,758.35L324.9,760.85Z"/>
<path class="ah" d="M431,759.6L426.8,760.85L426.8,758.35Z"/>
<text class="t" x="380" y="758.1" text-anchor="middle">8.5</text>
<text class="t" x="371.7" y="772.8" text-anchor="end">R13.0</text>
<polyline points="372,769 378,769 384,786.3"/>
<line x1="384" y1="768" x2="384" y2="786.5"/>
<line x1="384" y1="770" x2="431" y2="770"/>
<path class="ah" d="M384,770L388.2,768.75L388.2,771.25Z"/>
<path class="ah" d="M431,770L426.8,771.25L426.8,768.75Z"/>
<text class="t" x="411.3" y="767.4" text-anchor="middle">3.6</text>
<path d="M320.8,800.8C322.77,799.7 324.33,798.6 326.7,797.5C329.07,796.4 331.4,795.32 335,794.2C338.6,793.08 343.3,791.83 348.3,790.8C353.3,789.77 359.43,788.68 365,788C370.57,787.32 375.87,786.9 381.7,786.7C387.53,786.5 394.45,786.67 400,786.8C405.55,786.93 410,787.27 415,787.5L430.6,805C430.67,813.9 431.18,826.42 430.8,831.7C430.42,836.98 429.55,835.03 428.3,836.7C427.05,838.37 425.23,840.65 423.3,841.7C421.37,842.75 422.25,842.78 416.7,843C411.15,843.22 399.45,842.95 390,843C380.55,843.05 365.7,843.38 360,843.3C354.3,843.22 357.2,842.77 355.8,842.5L355,824.5C352.77,824.93 350.52,825.3 348.3,825.8C346.08,826.3 344.2,827.02 341.7,827.5C339.2,827.98 335.8,828.57 333.3,828.7C330.8,828.83 328.5,828.78 326.7,828.3C324.9,827.82 323.48,826.77 322.5,825.8C321.52,824.83 321.37,823.6 320.8,822.5L320.8,800.8Z"/>
<line x1="416.3" y1="787" x2="463.7" y2="787"/>
<line x1="421" y1="842.4" x2="463.7" y2="842.4"/>
<line x1="431" y1="805.3" x2="448.3" y2="805.3"/>
<line x1="447" y1="805.3" x2="447" y2="842.4"/>
<path class="ah" d="M447,805.3L448.25,809.5L445.75,809.5Z"/>
<path class="ah" d="M447,842.4L445.75,838.2L448.25,838.2Z"/>
<text class="t" x="0" y="0" text-anchor="middle" transform="translate(444.6,822) rotate(-90)">2.85</text>
<line x1="461" y1="787" x2="461" y2="842.4"/>
<path class="ah" d="M461,787L462.25,791.2L459.75,791.2Z"/>
<path class="ah" d="M461,842.4L459.75,838.2L462.25,838.2Z"/>
<text class="t" x="0" y="0" text-anchor="middle" transform="translate(459.6,815.3) rotate(-90)">4.3</text>
<text class="t" x="0" y="0" text-anchor="middle" font-size="8" transform="translate(417,781.5) rotate(-38)">40.00°</text>
<path d="M415,786.8 Q423,782 430.5,781.6" class="ln"/>
<line x1="397.7" y1="844" x2="397.7" y2="857.3"/>
<line x1="397.7" y1="856" x2="431" y2="856"/>
<path class="ah" d="M397.7,856L401.9,854.75L401.9,857.25Z"/>
<path class="ah" d="M431,856L426.8,857.25L426.8,854.75Z"/>
<text class="t" x="413.4" y="853.4" text-anchor="middle">2.5</text>
<text class="t" x="384" y="859.4" text-anchor="end">R30.0</text>
<polyline points="384.5,856.5 390,856.5 397,844.5"/>
<line x1="293" y1="793" x2="321" y2="802.3"/>
<text class="t" x="0" y="0" text-anchor="middle" transform="translate(304.11,795.11) rotate(18.37)">R0.5</text>
<line x1="320.7" y1="804.4" x2="354.3" y2="804.4"/>
<path class="ah" d="M320.7,804.4L324.9,803.15L324.9,805.65Z"/>
<path class="ah" d="M354.3,804.4L350.1,805.65L350.1,803.15Z"/>
<text class="t" x="336.7" y="802.8" text-anchor="middle">2.64</text>
<line x1="355" y1="802.5" x2="355" y2="824.5"/>
<line x1="293.7" y1="835.3" x2="327.7" y2="822"/>
<text class="t" x="0" y="0" text-anchor="middle" transform="translate(306.75,828.58) rotate(-21.36)">R0.5</text>
<line x1="332.3" y1="824.5" x2="379.4" y2="824.5"/>
<line x1="378.6" y1="824.5" x2="378.6" y2="842.4"/>
<path class="ah" d="M378.6,824.5L379.85,828.7L377.35,828.7Z"/>
<path class="ah" d="M378.6,842.4L377.35,838.2L379.85,838.2Z"/>
<text class="t" x="0" y="0" text-anchor="middle" transform="translate(376,832.5) rotate(-90)">1.4</text>
<text class="t" x="0" y="0" text-anchor="middle" font-size="7" transform="translate(343,833) rotate(70)">8.00°</text>
<text class="t" x="0" y="0" text-anchor="middle" font-size="7" transform="translate(361,839) rotate(-20)">8.00°</text>
<text class="i" x="303" y="880.8" textLength="44.9" lengthAdjust="spacingAndGlyphs">NO:D2R-146</text>
<text class="i" x="371.6" y="879" textLength="53.04" lengthAdjust="spacingAndGlyphs">AREA:30.4946</text>
<text class="i" x="371.6" y="895.5" textLength="83.98" lengthAdjust="spacingAndGlyphs">SIZE:8.5X4.3&#160;&#160;R13.0</text>
<line x1="542.4" y1="759" x2="542.4" y2="800"/>
<line x1="634.4" y1="759" x2="634.4" y2="799.5"/>
<line x1="542.4" y1="760.8" x2="634.4" y2="760.8"/>
<path class="ah" d="M542.4,760.8L546.6,759.55L546.6,762.05Z"/>
<path class="ah" d="M634.4,760.8L630.2,762.05L630.2,759.55Z"/>
<text class="t" x="590" y="759.3" text-anchor="middle">7.1</text>
<line x1="524.2" y1="791.4" x2="588.8" y2="791.4"/>
<line x1="524.2" y1="835.8" x2="561" y2="835.8"/>
<line x1="526" y1="791.4" x2="526" y2="835.8"/>
<path class="ah" d="M526,791.4L527.25,795.6L524.75,795.6Z"/>
<path class="ah" d="M526,835.8L524.75,831.6L527.25,831.6Z"/>
<text class="t" x="0" y="0" text-anchor="middle" transform="translate(523,814) rotate(-90)">3.4</text>
<path d="M542.9,797.9C544.3,797.33 544.78,796.85 547.1,796.2C549.42,795.55 552.87,794.7 556.8,794C560.73,793.3 565.38,792.47 570.7,792C576.02,791.53 582.93,791.2 588.7,791.2C594.47,791.2 600.22,791.53 605.3,792C610.38,792.47 615.27,793.3 619.2,794C623.13,794.7 626.4,795.43 628.9,796.2C631.4,796.97 632.43,797.8 634.2,798.6C634.2,805.3 634.38,814.67 634.2,818.7C634.02,822.73 633.75,821.18 633.1,822.8C632.45,824.42 631.7,826.67 630.3,828.4C628.9,830.13 627.02,832 624.7,833.2C622.38,834.4 620.52,835.13 616.4,835.6C612.28,836.07 606.07,835.93 600,836C593.93,836.07 586.73,836 580,836C573.27,836 564.17,836.23 559.6,836C555.03,835.77 554.68,835.63 552.6,834.6C550.52,833.57 548.53,831.53 547.1,829.8C545.67,828.07 544.7,826.05 544,824.2C543.3,822.35 543.08,823.08 542.9,818.7C542.72,814.32 542.9,804.83 542.9,797.9Z"/>
<polyline points="589,791.2 596,776 601,776"/>
<text class="t" x="601.5" y="778.7">R12.0</text>
<line x1="543.6" y1="799.5" x2="567.9" y2="816.6"/>
<text class="t" x="0" y="0" text-anchor="middle" transform="translate(559.04,808.53) rotate(35.13)">R0.3</text>
<line x1="607.4" y1="811.5" x2="630.3" y2="826.3"/>
<text class="t" x="0" y="0" text-anchor="middle" transform="translate(617.83,816.46) rotate(32.87)">R1.5</text>
<polyline points="588,836 595,850 596,850"/>
<text class="t" x="596.4" y="853.3">R25.0</text>
<text class="i" x="503" y="880.8" textLength="44.9" lengthAdjust="spacingAndGlyphs">NO:D2R-147</text>
<text class="i" x="571.6" y="879" textLength="53.04" lengthAdjust="spacingAndGlyphs">AREA:22.2486</text>
<text class="i" x="571.6" y="895.5" textLength="83.98" lengthAdjust="spacingAndGlyphs">SIZE:7.1X3.4&#160;&#160;R12.0</text>
<text class="ft" x="354.47" y="920.4">01</text><text class="ft" x="372.27" y="920.4">010</text>
</svg>
</body></html>
